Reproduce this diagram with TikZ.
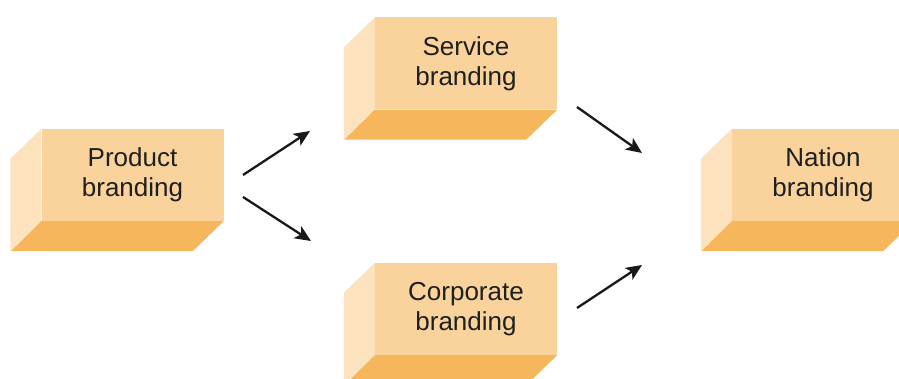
\documentclass[tikz,border=0pt]{standalone}
\usepackage{fontspec}
\setmainfont{Liberation Sans}
\usetikzlibrary{arrows.meta,calc}
\definecolor{frontc}{HTML}{F9D39B}
\definecolor{bottomc}{HTML}{F6B65C}
\definecolor{sidec}{HTML}{FCE3BD}
\newcommand\brandbox[4]{%
  \node[frontbox] (#1) at (#2,#3) {#4};
  \fill[sidec] (#1.north west) -- ++(-31,30) -- ++(0,92) -- (#1.south west) -- cycle;
  \fill[bottomc] (#1.south west) -- (#1.south east) -- ++(-31,30) -- ++(-182,0) -- cycle;
}
\begin{document}
\begin{tikzpicture}[x=1pt,y=-1pt,
  frontbox/.style={fill=frontc, minimum width=182pt, minimum height=92pt, inner sep=0pt,
    align=center, font=\fontsize{26}{30}\selectfont, text=black!88},
  arr/.style={line width=2.3pt, black!90, -{Stealth[length=16pt,width=14pt,inset=4pt]}}]
\useasboundingbox (0,0) rectangle (899,379);
\begin{scope}
\clip (0,0) rectangle (899,379);
\brandbox{prod}{132.5}{175}{Product\\branding}
\brandbox{serv}{466}{63.5}{Service\\branding}
\brandbox{corp}{466}{309}{Corporate\\branding}
\brandbox{nat}{823}{175}{Nation\\branding}
\end{scope}
\coordinate (a1s) at (243,175);
\coordinate (a1e) at (310,131);
\coordinate (a2s) at (243,197);
\coordinate (a2e) at (311,241);
\coordinate (a3s) at (577,107);
\coordinate (a3e) at (642,153);
\coordinate (a4s) at (577,308);
\coordinate (a4e) at (642,265);
\draw[arr] (a1s) -- (a1e);
\draw[arr] (a2s) -- (a2e);
\draw[arr] (a3s) -- (a3e);
\draw[arr] (a4s) -- (a4e);
\end{tikzpicture}
\end{document}
